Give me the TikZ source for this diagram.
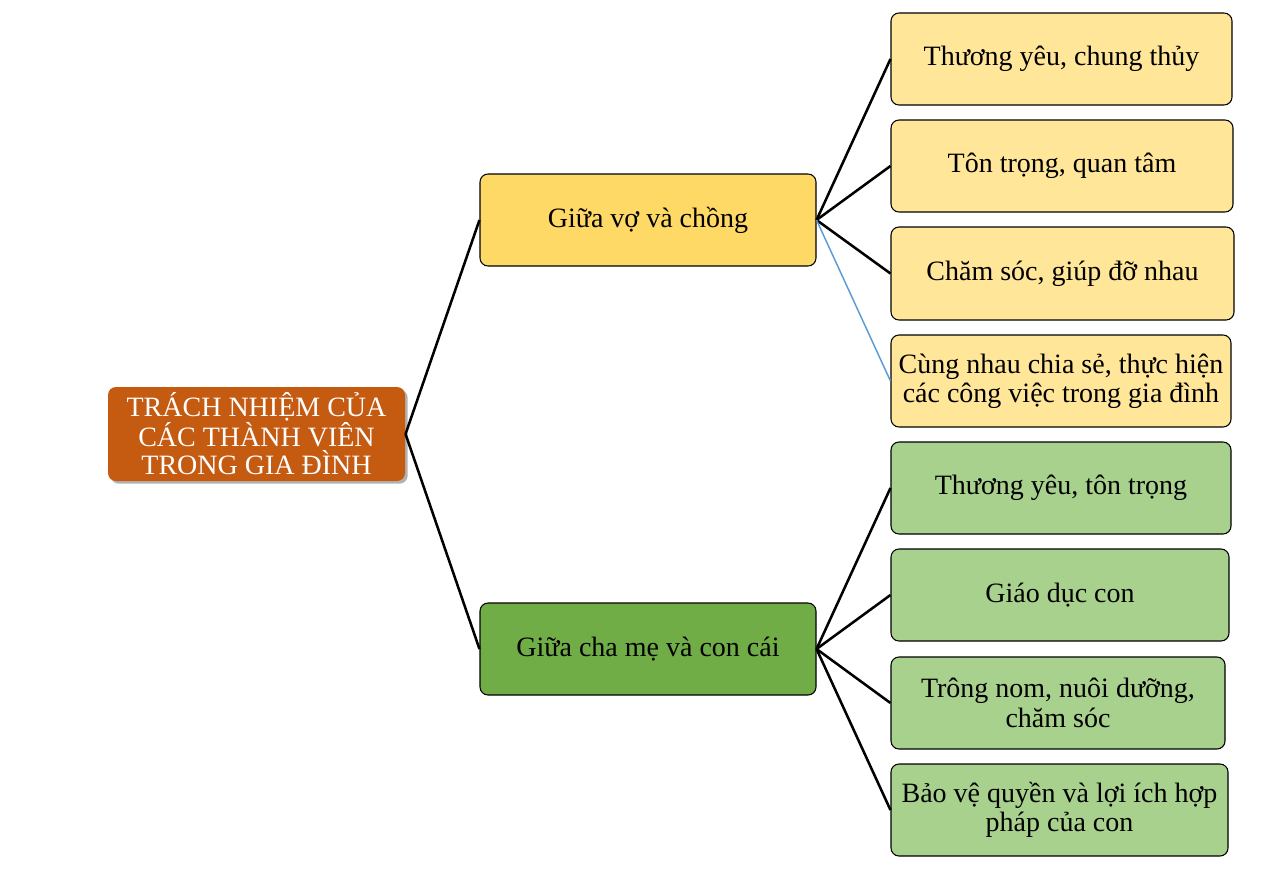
\documentclass[tikz,border=0pt]{standalone}
\usepackage{fontspec}
\setmainfont{Liberation Serif}
\usetikzlibrary{shadows}
\definecolor{rootC}{HTML}{C55A11}
\definecolor{midY}{HTML}{FFD966}
\definecolor{midG}{HTML}{70AD47}
\definecolor{leafY}{HTML}{FFE699}
\definecolor{leafG}{HTML}{A9D18E}
\definecolor{blueL}{HTML}{5B9BD5}
\begin{document}
\begin{tikzpicture}[x=0.75pt,y=-0.75pt,
  box/.style={draw=black, line width=0.8pt, rounded corners=6pt, align=center,
    font=\fontsize{21}{22}\selectfont, inner sep=2pt, text=black},
  rootbox/.style={box, draw=none, fill=rootC, text=white,
    drop shadow={shadow xshift=2pt, shadow yshift=-2pt, fill=black!60, opacity=0.5},
    font=\fontsize{21}{21}\selectfont},
  midbox/.style={box, minimum width=252pt, minimum height=69pt},
  link/.style={line width=1.9pt, black},
  bluelink/.style={line width=1.1pt, blueL}]
\useasboundingbox (0,0) rectangle (1261,882);
% root
\node[rootbox, minimum width=222.75pt, minimum height=70.5pt] (root) at (256.5,434)
  {TRÁCH NHIỆM CỦA\\CÁC THÀNH VIÊN\\TRONG GIA ĐÌNH};
% middle
\node[midbox, fill=midY] (m1) at (648,220) {Giữa vợ và chồng};
\node[midbox, fill=midG] (m2) at (648,649) {Giữa cha mẹ và con cái};
% yellow leaves
\node[box, fill=leafY, minimum width=255.75pt, minimum height=69pt] (y1) at (1061.5,59) {Thương yêu, chung thủy};
\node[box, fill=leafY, minimum width=256.5pt, minimum height=69pt] (y2) at (1062,166) {Tôn trọng, quan tâm};
\node[box, fill=leafY, minimum width=257.25pt, minimum height=69.75pt] (y3) at (1062.5,273.5) {Chăm sóc, giúp đỡ nhau};
\node[box, fill=leafY, minimum width=255pt, minimum height=69pt] (y4) at (1061,381) {Cùng nhau chia sẻ, thực hiện\\các công việc trong gia đình};
% green leaves
\node[box, fill=leafG, minimum width=255pt, minimum height=69pt] (g1) at (1061,488) {Thương yêu, tôn trọng};
\node[box, fill=leafG, minimum width=253.5pt, minimum height=69pt] (g2) at (1060,595) {Giáo dục con};
\node[box, fill=leafG, minimum width=250.5pt, minimum height=69pt] (g3) at (1058,703) {Trông nom, nuôi dưỡng,\\chăm sóc};
\node[box, fill=leafG, minimum width=252.75pt, minimum height=69pt] (g4) at (1059.5,810) {Bảo vệ quyền và lợi ích hợp\\pháp của con};
% connectors
\draw[link] (root.east) -- (m1.west);
\draw[link] (root.east) -- (m2.west);
\draw[link] (m1.east) -- (y1.west);
\draw[link] (m1.east) -- (y2.west);
\draw[link] (m1.east) -- (y3.west);
\draw[bluelink] (m1.east) -- (y4.west);
\draw[link] (m2.east) -- (g1.west);
\draw[link] (m2.east) -- (g2.west);
\draw[link] (m2.east) -- (g3.west);
\draw[link] (m2.east) -- (g4.west);
\end{tikzpicture}
\end{document}
